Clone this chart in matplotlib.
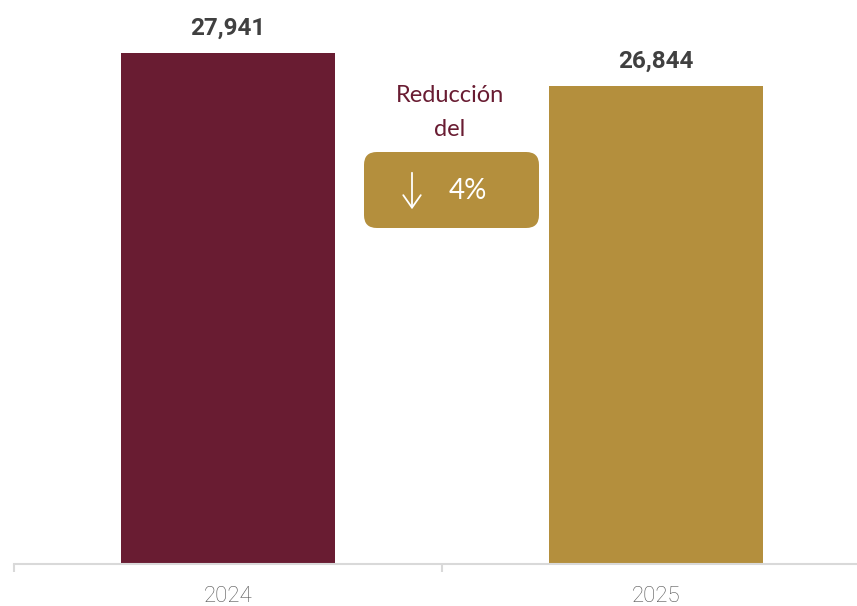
import matplotlib.pyplot as plt
from matplotlib.patches import FancyBboxPatch

# Datos
years = ['2024', '2025']
values = [27941, 26844]
colors = ['#691C32', '#B48F3D']
reduction_pct = 4

fig = plt.figure(figsize=(8.57, 6.06), dpi=100)
W, H = 857, 606

# el eje se extiende un poco más allá del borde derecho
ax = fig.add_axes([14 / W, 42 / H, 856 / W, 564 / H])

ax.bar(range(len(years)), values, width=0.5, color=colors)
ax.set_xlim(-0.5, 1.5)
ax.set_ylim(10650, 29746)

for i, v in enumerate(values):
    ax.annotate(f'{v:,}', (i, v), xytext=(0, 13), textcoords='offset points',
                ha='center', va='baseline', fontsize=17.5, fontweight='bold',
                family='Roboto', color='#404040')

for s in ['top', 'right', 'left']:
    ax.spines[s].set_visible(False)
ax.spines['bottom'].set_color('#D9D9D9')
ax.spines['bottom'].set_linewidth(1.5)
ax.set_yticks([])

ax.set_xticks(range(len(years)))
ax.set_xticklabels(years, fontsize=16, family='Roboto', fontweight='light', color='#555555')
ax.tick_params(axis='x', which='major', length=0, pad=16)
ax.set_xticks([-0.5, 0.5, 1.5], minor=True)
ax.tick_params(axis='x', which='minor', length=6, width=1.5, color='#D9D9D9')

# Recuadro de reducción
fig.text(450 / W, 1 - 96 / H, 'Reducción', ha='center', va='center',
         fontsize=17, family='Lato', color='#691C32')
fig.text(450 / W, 1 - 130 / H, 'del', ha='center', va='center',
         fontsize=17, family='Lato', color='#691C32')

box = FancyBboxPatch((364 / W, 1 - 228 / H), 175 / W, 76 / H,
                     boxstyle='round,pad=0,rounding_size=0.015',
                     transform=fig.transFigure, facecolor='#B48F3D',
                     edgecolor='none', mutation_aspect=W / H)
fig.patches.append(box)

fig.add_artist(plt.Annotation('', xy=(412 / W, 1 - 212 / H), xytext=(412 / W, 1 - 170 / H),
                              xycoords='figure fraction', textcoords='figure fraction',
                              arrowprops=dict(arrowstyle='->,head_length=0.5,head_width=0.35',
                                              color='white', lw=1.3, mutation_scale=18)))
fig.text(468 / W, 1 - 191 / H, f'{reduction_pct}%', ha='center', va='center',
         fontsize=20, family='Lato', color='white')

plt.savefig('out.png', dpi=100)
